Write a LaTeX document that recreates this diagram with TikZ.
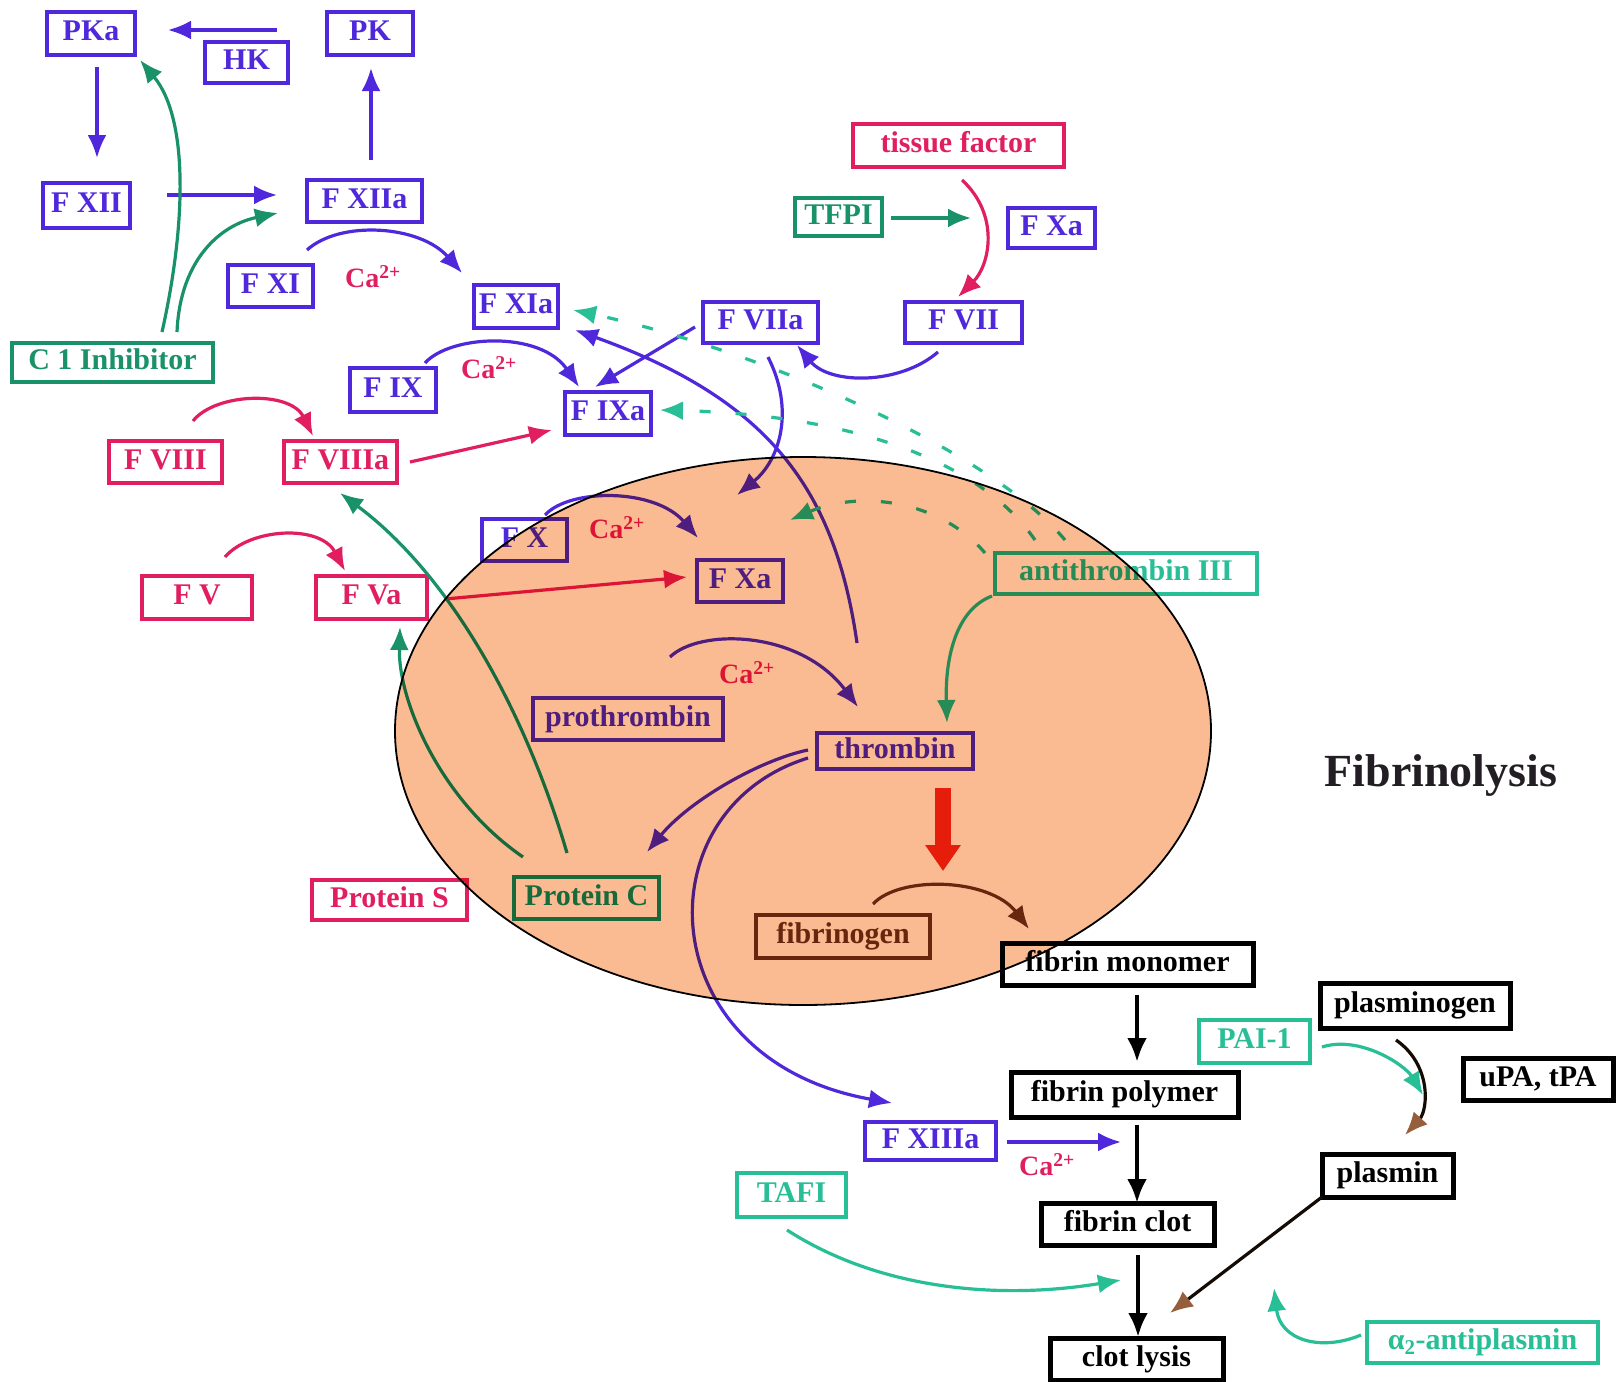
\documentclass[tikz,border=0pt]{standalone}
\usepackage{fontspec}
\setmainfont{Liberation Serif}
\usetikzlibrary{arrows.meta}
\definecolor{cb}{RGB}{80,40,220}
\definecolor{cr}{RGB}{225,30,95}
\definecolor{cg}{RGB}{25,145,105}
\definecolor{ct}{RGB}{40,190,150}
\definecolor{cbr}{RGB}{105,55,25}
\definecolor{ctip}{RGB}{150,95,60}
\definecolor{cor}{RGB}{250,180,135}
\definecolor{cthick}{RGB}{235,40,20}
\tikzset{
  bx/.style={draw, line width=3.5pt, inner sep=0pt, outer sep=0pt,
    font=\bfseries\fontsize{30}{32}\selectfont, text height=20pt, text depth=6pt},
  bxb/.style={bx, color=cb},
  bxr/.style={bx, color=cr},
  bxg/.style={bx, color=cg},
  bxt/.style={bx, color=ct},
  bxk/.style={bx, color=black, line width=5pt},
  bxn/.style={bx, color=cbr, line width=4.5pt},
  arw/.style={line width=3.2pt, -{Latex[length=23pt,width=19pt]}},
  abl/.style={arw, cb},
  ard/.style={arw, cr},
  agr/.style={arw, cg},
  atl/.style={arw, ct},
  abn/.style={arw, cbr},
  akk/.style={line width=4.5pt, black, -{Latex[length=24pt,width=20pt]}},
  dsh/.style={atl, dash pattern=on 11pt off 25pt},
  calab/.style={text=cr, font=\bfseries\fontsize{28}{30}\selectfont},
}
\newcommand\mybox[7]{\node[#1, minimum width=#5pt-#3pt, minimum height=#6pt-#4pt] (#2) at ({(#3+#5)/2},{(#4+#6)/2}) {#7};}
\begin{document}
\begin{tikzpicture}[x=1pt,y=-1pt]
\useasboundingbox (0,0) rectangle (1616,1381);
\fill[white] (0,0) rectangle (1616,1381);
% blue boxes
\mybox{bxb}{PKa}{47}{12}{135}{55}{PKa}
\mybox{bxb}{HK}{205}{42}{288}{83}{HK}
\mybox{bxb}{PK}{327}{12}{413}{55}{PK}
\mybox{bxb}{FXII}{43}{183}{130}{228}{F XII}
\mybox{bxb}{FXIIa}{307}{180}{422}{222}{F XIIa}
\mybox{bxb}{FXI}{228}{265}{313}{307}{F XI}
\mybox{bxb}{FXIa}{474}{285}{558}{328}{F XIa}
\mybox{bxb}{FIX}{350}{368}{436}{412}{F IX}
\mybox{bxb}{FIXa}{565}{392}{651}{435}{F IXa}
\mybox{bxb}{FVIIa}{703}{302}{818}{343}{F VIIa}
\mybox{bxb}{FVII}{905}{302}{1022}{343}{F VII}
\mybox{bxb}{FXatop}{1008}{208}{1095}{248}{F Xa}
\mybox{bxb}{FX}{482}{519}{567}{561}{F X}
\mybox{bxb}{FXa}{697}{560}{783}{602}{F Xa}
\mybox{bxb}{prothrombin}{533}{698}{723}{740}{prothrombin}
\mybox{bxb}{thrombin}{817}{733}{973}{769}{thrombin}
\mybox{bxb}{FXIIIa}{865}{1122}{996}{1160}{F XIIIa}
% red boxes
\mybox{bxr}{tissue}{853}{124}{1064}{167}{tissue factor}
\mybox{bxr}{FVIII}{109}{441}{222}{483}{F VIII}
\mybox{bxr}{FVIIIa}{284}{441}{397}{483}{F VIIIa}
\mybox{bxr}{FV}{142}{576}{252}{619}{F V}
\mybox{bxr}{FVa}{316}{576}{427}{619}{F Va}
\mybox{bxr}{ProteinS}{312}{880}{467}{920}{Protein S}
% green boxes
\mybox{bxg}{C1}{12}{343}{213}{382}{C 1 Inhibitor}
\mybox{bxg}{TFPI}{795}{198}{882}{236}{TFPI}
\mybox{bxg}{ProteinC}{514}{877}{659}{919}{Protein C}
% teal boxes
\mybox{bxt}{antithrombin}{995}{553}{1257}{594}{antithrombin III}
\mybox{bxt}{PAI1}{1199}{1020}{1310}{1063}{PAI-1}
\mybox{bxt}{TAFI}{737}{1173}{846}{1217}{TAFI}
\mybox{bxt}{alpha2}{1367}{1322}{1598}{1363}{α\textsubscript{2}-antiplasmin}
% black boxes
\mybox{bxk}{monomer}{1002}{943}{1253}{985}{fibrin monomer}
\mybox{bxk}{polymer}{1011}{1072}{1238}{1117}{fibrin polymer}
\mybox{bxk}{clot}{1041}{1203}{1214}{1245}{fibrin clot}
\mybox{bxk}{lysis}{1050}{1338}{1223}{1380}{clot lysis}
\mybox{bxk}{plasminogen}{1320}{983}{1510}{1028}{plasminogen}
\mybox{bxk}{uPA}{1463}{1058}{1613}{1100}{uPA, tPA}
\mybox{bxk}{plasmin}{1322}{1154}{1453}{1197}{plasmin}
\mybox{bxn}{fibrinogen}{756}{915}{930}{958}{fibrinogen}
% free ends
\coordinate (fxaIn) at (790,520);
\coordinate (pIn) at (1423,1095);
\coordinate (tafiIn) at (1121,1280);
\coordinate (apIn) at (1274,1288);
% Ca labels
\node[calab] (ca1) at (373,277) {Ca\textsuperscript{2+}};
\node[calab] (ca2) at (489,368) {Ca\textsuperscript{2+}};
\node[calab] (ca3) at (617,528) {Ca\textsuperscript{2+}};
\node[calab] (ca4) at (747,673) {Ca\textsuperscript{2+}};
\node[calab] (ca5) at (1047,1165) {Ca\textsuperscript{2+}};
\node[font=\bfseries\fontsize{46}{48}\selectfont, text={rgb,255:red,35;green,30;blue,35}] (fibrinolysis) at (1441,775) {Fibrinolysis};
% blue arrows
\draw[abl] ([shift={(30,-12)}]HK.north) -- ([shift={(33,-3.5)}]PKa.east);
\draw[abl] ([shift={(6,12)}]PKa.south) -- ([shift={(10.5,-25)}]FXII.north);
\draw[abl] ([shift={(37,-10.5)}]FXII.east) -- ([shift={(-30,-6)}]FXIIa.west);
\draw[abl] ([shift={(6.5,-20)}]FXIIa.north) -- ([shift={(1,13)}]PK.south);
\draw[abl] ([shift={(-6,-15)}]FXI.north east) .. controls (340,220) and (420,225) .. ([shift={(-12,-12)}]FXIa.north west);
\draw[abl] ([shift={(-11,-5)}]FIX.north east) .. controls (450,335) and (540,330) .. ([shift={(-29,-5)}]FIXa.north);
\draw[abl] ([shift={(-8,4.5)}]FVIIa.west) -- ([shift={(-13,-5)}]FIXa.north);
\draw[abl] ([shift={(-38,-90)}]thrombin.north) .. controls (835,490) and (770,400) .. ([shift={(17,2)}]FXIa.south east);
\draw[abl] ([shift={(7.5,14)}]FVIIa.south) .. controls (795,410) and (780,460) .. ([shift={(-3,-65)}]FXa.north);
\draw[abl] ([shift={(-25.5,9)}]FVII.south) .. controls (900,385) and (830,385) .. ([shift={(-21,2)}]FVIIa.south east);
\draw[abl] ([shift={(20.5,-4)}]FX.north) .. controls (570,488) and (655,488) .. ([shift={(-42,-22)}]FXa.north);
\draw[abl] ([shift={(42,-41)}]prothrombin.north) .. controls (700,628) and (800,630) .. ([shift={(-37,-26)}]thrombin.north);
\draw[abl] ([shift={(-9,-1)}]thrombin.west) .. controls (760,760) and (690,800) .. ([shift={(60.5,-25)}]ProteinC.north);
\draw[abl] ([shift={(-9,7)}]thrombin.west) .. controls (640,810) and (650,1060) .. ([shift={(-38.5,-19)}]FXIIIa.north);
\draw[abl] ([shift={(11,1)}]FXIIIa.east) -- ([shift={(-3.5,25)}]polymer.south);
% red arrows
\draw[ard] ([shift={(3.5,13)}]tissue.south) .. controls (1000,215) and (990,265) .. ([shift={(-5.5,-5)}]FVII.north);
\draw[ard] ([shift={(27.5,-20)}]FVIII.north) .. controls (215,393) and (290,390) .. ([shift={(-27.5,-5)}]FVIIIa.north);
\draw[ard] ([shift={(28,-19)}]FV.north) .. controls (250,528) and (320,524) .. ([shift={(-26.5,-5)}]FVa.north);
\draw[ard] ([shift={(13,0)}]FVIIIa.east) -- ([shift={(-13,16.5)}]FIXa.west);
\draw[ard] ([shift={(18,1.5)}]FVa.east) -- ([shift={(-10,-4)}]FXa.west);
% green arrows
\draw[agr] ([shift={(49.5,-11)}]C1.north) .. controls (185,230) and (190,120) .. ([shift={(5,5)}]PKa.south east);
\draw[agr] ([shift={(64.5,-11)}]C1.north) .. controls (180,260) and (220,225) .. ([shift={(-29,12)}]FXIIa.west);
\draw[agr] ([shift={(9,1)}]TFPI.east) -- ([shift={(-37,-10)}]FXatop.west);
\draw[agr] ([shift={(-19.5,-24)}]ProteinC.north) .. controls (525,710) and (450,575) .. ([shift={(-0.5,10)}]FVIIIa.south);
\draw[agr] ([shift={(-63.5,-20)}]ProteinC.north) .. controls (440,800) and (398,700) .. ([shift={(28.5,8)}]FVa.south);
% teal arrows
\draw[atl] ([shift={(-3,2)}]antithrombin.south west) .. controls (955,610) and (945,660) .. ([shift={(52,-10)}]thrombin.north);
\draw[dsh] ([shift={(-61,-13)}]antithrombin.north) .. controls (990,450) and (760,350) .. ([shift={(15,3.5)}]FXIa.east);
\draw[dsh] ([shift={(-91,-13)}]antithrombin.north) .. controls (980,460) and (850,415) .. ([shift={(9,-3.5)}]FIXa.east);
\draw[dsh] ([shift={(-10,0)}]antithrombin.north west) .. controls (940,500) and (860,490) .. (fxaIn);
\draw[atl] ([shift={(12,5.5)}]PAI1.east) .. controls (1360,1035) and (1405,1065) .. (pIn);
\draw[atl] ([shift={(-4.5,13)}]TAFI.south) .. controls (880,1290) and (1000,1300) .. (tafiIn);
\draw[atl] ([shift={(-6,-7.5)}]alpha2.west) .. controls (1320,1352) and (1280,1340) .. (apIn);
% brown arrows
\draw[abn] ([shift={(30,-11)}]fibrinogen.north) .. controls (900,875) and (990,878) .. ([shift={(27,-14)}]monomer.north west);
\draw[line width=3.2pt, draw=black!80!cbr, -{Latex[length=23pt,width=19pt,color=ctip]}] ([shift={(-19,12)}]plasminogen.south) .. controls (1432,1065) and (1428,1110) .. ([shift={(17.5,-19)}]plasmin.north);
\draw[line width=3.2pt, draw=black!80!cbr, -{Latex[length=23pt,width=19pt,color=ctip]}] (plasmin.south west) -- ([shift={(33.5,-25)}]lysis.north);
% black arrows
\draw[akk] ([shift={(9.5,10)}]monomer.south) -- ([shift={(12.5,-10)}]polymer.north);
\draw[akk] ([shift={(12.5,8)}]polymer.south) -- ([shift={(9.5,0)}]clot.north);
\draw[akk] ([shift={(10.5,10)}]clot.south) -- ([shift={(1.5,-1)}]lysis.north);
% thick red arrow
\draw[cthick, line width=16pt, -{Triangle[length=26pt,width=34pt]}] ([shift={(48,19)}]thrombin.south) -- ([shift={(48,102)}]thrombin.south);
% ellipse
\begin{scope}[blend mode=multiply]
\fill[cor, fill opacity=0.9] (803,731) ellipse [x radius=408, y radius=274];
\end{scope}
\draw[line width=1.8pt] (803,731) ellipse [x radius=408, y radius=274];
\end{tikzpicture}
\end{document}
